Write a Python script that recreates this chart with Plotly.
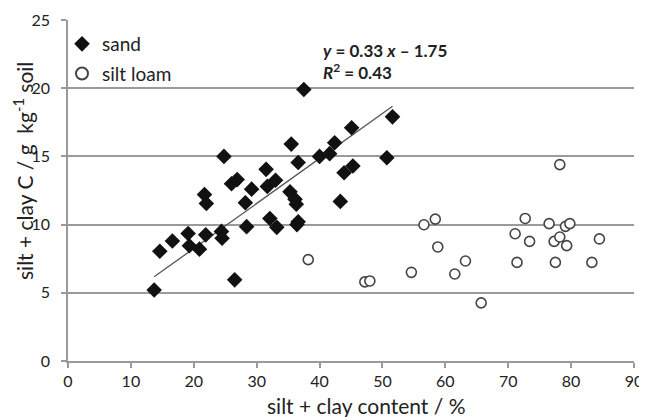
import plotly.graph_objects as go

# ---- data ----
sand_x = [13.7, 14.6, 16.6, 19.1, 19.3, 20.9, 21.9, 24.4, 24.5, 26.5,
          21.7, 22.0, 24.8, 26.0, 26.9, 28.2, 28.4, 29.2, 31.5, 31.7,
          32.1, 33.2, 33.0, 35.3, 35.5, 36.1, 36.3, 36.6, 36.6, 36.4,
          37.5, 40.0, 41.6, 42.4, 43.3, 43.9, 45.3, 45.1, 50.7, 51.6]
sand_y = [5.2, 8.05, 8.8, 9.35, 8.45, 8.2, 9.25, 9.5, 9.0, 5.95,
          12.2, 11.55, 15.0, 13.0, 13.3, 11.6, 9.85, 12.6, 14.05, 12.8,
          10.45, 9.8, 13.25, 12.4, 15.9, 11.85, 11.5, 14.55, 10.2, 10.0,
          19.9, 15.0, 15.2, 16.0, 11.7, 13.8, 14.3, 17.1, 14.9, 17.9]

silt_x = [38.2, 47.2, 48.0, 54.6, 56.6, 58.4, 58.8, 61.5, 63.2, 65.7,
          71.1, 71.4, 72.7, 73.4, 76.5, 77.3, 77.5, 78.2, 78.2, 79.1,
          79.3, 79.8, 83.3, 84.5]
silt_y = [7.43, 5.8, 5.87, 6.5, 9.99, 10.4, 8.36, 6.38, 7.33, 4.26,
          9.33, 7.23, 10.45, 8.77, 10.07, 8.77, 7.23, 14.4, 9.09, 9.87,
          8.46, 10.07, 7.23, 8.95]

x_ticks = [0, 10, 20, 30, 40, 50, 60, 70, 80, 90]
y_ticks = [0, 5, 10, 15, 20, 25]

# trend line as drawn in the reference (slope / offset)
trend_slope = 0.33
trend_offset = 1.65
line_x = [min(sand_x), max(sand_x)]
line_y = [trend_slope * v + trend_offset for v in line_x]

FONT = "Lato"
TXT = "#222222"
GRID = "#9a9a9a"

# page body adds an 8px offset; figure is sized so the window view matches
OFF = 8
W, H = 647 - OFF, 417 - OFF
L, T = 68 - OFF, 20 - OFF
R, B = 13, 56
PW, PH = W - L - R, H - T - B


def px(xw):
    return (xw - OFF - L) / PW


def py(yw):
    return 1 - (yw - OFF - T) / PH


fig = go.Figure()
fig.add_trace(go.Scatter(
    x=line_x, y=line_y, mode="lines", showlegend=False,
    line=dict(color="#555555", width=1.3), hoverinfo="skip"))
fig.add_trace(go.Scatter(
    x=sand_x, y=sand_y, mode="markers", name="sand", legendgroup="a",
    marker=dict(symbol="diamond", size=12, color="#111111",
                line=dict(width=0))))
fig.add_trace(go.Scatter(
    x=silt_x, y=silt_y, mode="markers", name="silt loam", legendgroup="b",
    marker=dict(symbol="circle", size=10, color="white",
                line=dict(width=1.6, color="#444444"))))

ann_font = dict(family=FONT, size=17, color=TXT, weight="bold")
fig.add_annotation(x=px(321), y=py(50), xref="paper", yref="paper",
                   xanchor="left", yanchor="middle", showarrow=False,
                   text="<i>y</i> = 0.33 <i>x</i> – 1.75", font=ann_font)
fig.add_annotation(x=px(321), y=py(72), xref="paper", yref="paper",
                   xanchor="left", yanchor="middle", showarrow=False,
                   text="<i>R</i><sup>2</sup> = 0.43", font=ann_font)

# axis titles
fig.add_annotation(x=px(366), y=py(405), xref="paper", yref="paper",
                   xanchor="center", yanchor="middle", showarrow=False,
                   text="silt + clay content / %",
                   font=dict(family=FONT, size=21, color=TXT))
fig.add_annotation(x=px(23), y=py(171), xref="paper", yref="paper",
                   xanchor="center", yanchor="middle", showarrow=False,
                   textangle=-90,
                   text="silt + clay C / g  kg<sup>-1</sup> soil",
                   font=dict(family=FONT, size=21, color=TXT))

fig.update_layout(
    width=W, height=H,
    margin=dict(l=L, r=R, t=T, b=B),
    paper_bgcolor="white", plot_bgcolor="white",
    font=dict(family=FONT, color=TXT, size=16),
    legend=dict(x=px(62), y=py(25), xanchor="left", yanchor="top",
                bgcolor="rgba(0,0,0,0)", tracegroupgap=2,
                font=dict(family=FONT, size=19, color=TXT),
                itemsizing="constant"),
    xaxis=dict(range=[0, 90], tickvals=x_ticks, showgrid=False, zeroline=False,
               automargin=False,
               showline=True, linecolor=GRID, linewidth=1.5,
               ticks="outside", tickcolor=GRID, ticklen=5, tickwidth=1.5,
               tickfont=dict(family=FONT, size=16, color=TXT)),
    yaxis=dict(range=[0, 25], tickvals=y_ticks, showgrid=True, gridcolor=GRID,
               gridwidth=1.5, zeroline=False, automargin=False,
               showline=True, linecolor=GRID, linewidth=1.5,
               ticks="outside", tickcolor=GRID, ticklen=5, tickwidth=1.5,
               ticklabelstandoff=8,
               tickfont=dict(family=FONT, size=16, color=TXT)),
)

fig.write_html("out.html")
